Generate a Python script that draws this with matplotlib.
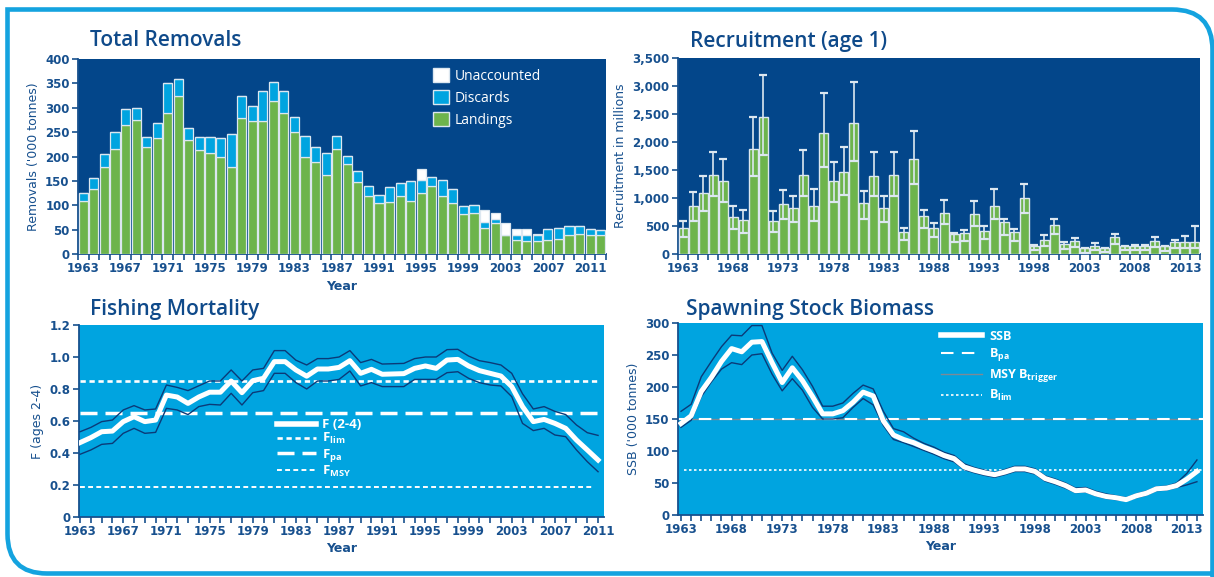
import numpy as np
import matplotlib.pyplot as plt
from matplotlib.lines import Line2D
from matplotlib.patches import Patch, PathPatch
from matplotlib.path import Path

# ---------------- data ----------------
rem_years = np.arange(1963, 2013)
landings = [109, 133, 178, 216, 264, 275, 220, 237, 289, 324,
            234, 213, 207, 200, 179, 280, 272, 272, 313, 289,
            250, 200, 189, 163, 216, 185, 147, 120, 104, 106,
            120, 108, 126, 140, 120, 104, 83, 84, 54, 63,
            38, 29, 27, 27, 29, 31, 38, 42, 40, 40]
discards = [17, 22, 27, 34, 34, 25, 19, 31, 62, 36,
            25, 28, 32, 37, 67, 45, 32, 62, 39, 45,
            32, 42, 31, 44, 26, 16, 24, 20, 18, 32,
            26, 41, 25, 17, 32, 29, 15, 16, 11, 9,
            0, 11, 11, 12, 22, 23, 19, 16, 11, 10]
unaccounted = [0] * 30 + [0, 0, 24, 0, 0, 0, 0, 0, 25, 13,
                          26, 11, 13, 3, 0, 0, 0, 0, 0, 0]

rec_years = np.arange(1963, 2015)
recruits = [464, 863, 1083, 1417, 1298, 661, 601, 1881, 2440, 583,
            887, 815, 1405, 857, 2155, 1298, 1464, 2333, 915, 1399,
            827, 1405, 387, 1696, 679, 464, 738, 357, 375, 714,
            405, 857, 571, 399, 1000, 137, 250, 518, 179, 226,
            101, 143, 101, 304, 137, 143, 143, 232, 137, 208,
            208, 208]
rec_low = [304, 595, 762, 1030, 929, 446, 381, 1387, 1762, 387,
           619, 571, 1030, 595, 1548, 923, 1048, 1655, 619, 1042,
           571, 1042, 244, 1256, 464, 304, 536, 208, 226, 506,
           268, 619, 345, 232, 726, 65, 143, 357, 89, 125,
           18, 71, 42, 179, 65, 71, 71, 131, 48, 113,
           113, 113]
rec_high = [583, 1113, 1387, 1827, 1702, 851, 780, 2446, 3190, 768,
            1149, 1030, 1857, 1155, 2875, 1643, 1917, 3065, 1125, 1821,
            1030, 1821, 464, 2190, 792, 554, 964, 375, 434, 952,
            494, 1155, 625, 452, 1256, 167, 333, 625, 214, 280,
            113, 196, 113, 357, 149, 161, 161, 298, 149, 250,
            327, 494]

f_years = np.arange(1963, 2012)
f_mean = [0.465, 0.496, 0.533, 0.537, 0.596, 0.627, 0.596, 0.606, 0.762, 0.75,
          0.71, 0.75, 0.78, 0.78, 0.85, 0.777, 0.852, 0.867, 0.971, 0.971,
          0.919, 0.88, 0.925, 0.925, 0.935, 0.977, 0.898, 0.923, 0.892, 0.894,
          0.896, 0.929, 0.944, 0.929, 0.981, 0.985, 0.944, 0.915, 0.898, 0.881,
          0.815, 0.69, 0.596, 0.61, 0.585, 0.554, 0.481, 0.419, 0.356]
f_high = [0.533, 0.56, 0.596, 0.606, 0.669, 0.696, 0.669, 0.675, 0.825, 0.81,
          0.79, 0.82, 0.85, 0.85, 0.919, 0.85, 0.919, 0.929, 1.04, 1.04,
          0.98, 0.95, 0.99, 0.99, 1.0, 1.04, 0.965, 0.985, 0.956, 0.958,
          0.96, 0.99, 1.0, 1.0, 1.046, 1.048, 1.006, 0.977, 0.965, 0.95,
          0.898, 0.77, 0.675, 0.69, 0.66, 0.64, 0.575, 0.527, 0.51]
f_low = [0.392, 0.419, 0.454, 0.46, 0.523, 0.554, 0.523, 0.529, 0.679, 0.669,
         0.64, 0.69, 0.704, 0.7, 0.773, 0.7, 0.777, 0.79, 0.898, 0.898,
         0.84, 0.8, 0.85, 0.85, 0.86, 0.9125, 0.819, 0.84, 0.815, 0.815,
         0.815, 0.86, 0.86, 0.86, 0.902, 0.908, 0.867, 0.84, 0.825, 0.819,
         0.752, 0.585, 0.54, 0.554, 0.5125, 0.502, 0.419, 0.346, 0.283]
F_LIM, F_PA, F_MSY = 0.85, 0.65, 0.19

ssb_years = np.arange(1963, 2015)
ssb = [143, 155, 193, 215, 240, 260, 255, 270, 271, 238,
       207, 230, 210, 185, 158, 158, 163, 176, 192, 186,
       147, 125, 118, 113, 106, 100, 93, 88, 75, 70,
       66, 63, 67, 72, 72, 68, 57, 52, 46, 38,
       39, 33, 29, 27, 24, 30, 34, 41, 42, 46,
       56, 68]
ssb_high = [162, 173, 216, 240, 263, 281, 280, 296, 296, 253,
            226, 248, 227, 201, 170, 170, 175, 190, 203, 197,
            162, 135, 130, 120, 112, 106, 98, 93, 80, 74,
            70, 66, 71, 76, 76, 72, 61, 56, 50, 42,
            43, 37, 33, 30, 27, 33, 37, 44, 45, 50,
            65, 86]
ssb_low = [137, 148, 185, 208, 228, 238, 235, 250, 252, 220,
           194, 213, 195, 168, 150, 150, 152, 168, 182, 172,
           140, 118, 113, 107, 101, 95, 88, 83, 71, 66,
           62, 59, 63, 68, 68, 64, 53, 48, 42, 35,
           36, 30, 26, 24, 22, 27, 31, 38, 39, 43,
           47, 52]
B_PA, B_TRIGGER, B_LIM = 150, 150, 70

# ---------------- style ----------------
NAVY_BG = '#03468a'
CYAN = '#00a4e0'
GREEN = '#6db44c'
TEXT = '#17508e'
DARK = '#0b3a78'
EDGE = '#dce7f0'
FRAME = '#14a3df'

plt.rcParams['font.family'] = ['DejaVu Sans']
plt.rcParams['mathtext.default'] = 'regular'

W, H = 1214, 577
fig = plt.figure(figsize=(W / 100, H / 100), dpi=100)
fig.patch.set_facecolor('white')

# outer frame
bg = fig.add_axes([0, 0, 1, 1], zorder=-5)
bg.set_xlim(0, W)
bg.set_ylim(H, 0)
bg.axis('off')
verts = [(1220, 573.5), (47, 573.5), (7.5, 573.5), (7.5, 534), (7.5, 9.5),
         (1172, 9.5), (1212.5, 9.5), (1212.5, 50), (1212.5, 590)]
codes = [Path.MOVETO, Path.LINETO, Path.CURVE3, Path.CURVE3, Path.LINETO,
         Path.LINETO, Path.CURVE3, Path.CURVE3, Path.LINETO]
bg.add_patch(PathPatch(Path(verts, codes), fill=False, edgecolor=FRAME,
                       lw=3.3, joinstyle='miter', clip_on=False))


def pix_axes(x0, y0, x1, y1):
    return fig.add_axes([x0 / W, 1 - y1 / H, (x1 - x0) / W, (y1 - y0) / H])


def style_axes(ax, face):
    ax.set_facecolor(face)
    for s in ['top', 'right']:
        ax.spines[s].set_visible(False)
    for s in ['left', 'bottom']:
        ax.spines[s].set_color(TEXT)
        ax.spines[s].set_linewidth(1.3)
    ax.tick_params(which='both', colors=TEXT, labelcolor=TEXT, length=4.5,
                   width=1.2, labelsize=8.5, pad=1.5)


def title(x, y, s):
    fig.text(x / W, 1 - y / H, s, fontsize=15, color='#0f4a8a',
             family=['Open Sans', 'DejaVu Sans'], fontweight='semibold',
             va='center', ha='left')


# ---------------- Total removals ----------------
ax1 = pix_axes(78, 59, 606, 254)
style_axes(ax1, NAVY_BG)
land = np.array(landings)
disc = np.array(discards)
unac = np.array(unaccounted)
ax1.bar(rem_years, land, width=0.86, color=GREEN, edgecolor=EDGE, lw=0.9, zorder=3)
ax1.bar(rem_years, disc, bottom=land, width=0.86, color=CYAN, edgecolor=EDGE,
        lw=0.9, zorder=3)
ax1.bar(rem_years, unac, bottom=land + disc, width=0.86, color='white',
        edgecolor=EDGE, lw=0.9, zorder=3)
ax1.set_xlim(1962.5, 2012.5)
ax1.set_ylim(0, 400)
yt = np.arange(0, 401, 50)
ax1.set_yticks(yt, [str(v) for v in yt], fontweight='bold')
lab = np.arange(1963, 2012, 4)
ax1.set_xticks(lab, [str(v) for v in lab], fontweight='bold')
ax1.set_xticks(np.arange(1962.5, 2013), minor=True)
ax1.tick_params(axis='x', which='major', length=0, pad=6)
ax1.set_ylabel("Removals ('000 tonnes)", color=TEXT, fontsize=9, labelpad=4)
ax1.set_xlabel('Year', color=TEXT, fontsize=9, fontweight='bold', labelpad=3)
h1 = [Patch(facecolor='white', edgecolor=EDGE, lw=1),
      Patch(facecolor=CYAN, edgecolor=EDGE, lw=1),
      Patch(facecolor=GREEN, edgecolor=EDGE, lw=1)]
leg = ax1.legend(h1, ['Unaccounted', 'Discards', 'Landings'], loc='upper left',
                 bbox_to_anchor=(0.672, 0.955), frameon=False, handlelength=1.2,
                 handleheight=1.2, handletextpad=0.4, labelspacing=0.45,
                 borderpad=0, borderaxespad=0,
                 prop={'family': ['Open Sans', 'DejaVu Sans'], 'size': 10})
for t in leg.get_texts():
    t.set_color('white')
title(90, 41, 'Total Removals')

# ---------------- Recruitment ----------------
ax2 = pix_axes(678, 58, 1200, 254)
style_axes(ax2, NAVY_BG)
rec = np.array(recruits)
lo = np.array(rec_low)
hi = np.array(rec_high)
ax2.bar(rec_years, rec, width=0.9, color=GREEN, edgecolor=EDGE, lw=1, zorder=3)
ax2.hlines(lo, rec_years - 0.45, rec_years + 0.45, color=EDGE, lw=1.2, zorder=4)
ax2.errorbar(rec_years, rec, yerr=[rec - lo, hi - rec], fmt='none', ecolor=EDGE,
             elinewidth=1.2, capsize=3.2, capthick=1.6, zorder=4)
ax2.set_xlim(1962.5, 2014.5)
ax2.set_ylim(0, 3500)
yt = np.arange(0, 3501, 500)
ax2.set_yticks(yt, [f'{v:,}' for v in yt], fontweight='bold')
lab = np.arange(1963, 2015, 5)
ax2.set_xticks(lab, [str(v) for v in lab], fontweight='bold')
ax2.set_xticks(np.arange(1962.5, 2015), minor=True)
ax2.tick_params(axis='x', which='major', length=0, pad=6)
ax2.set_ylabel('Recruitment in millions', color=TEXT, fontsize=9, labelpad=4)
title(690, 41, 'Recruitment (age 1)')

# ---------------- Fishing mortality ----------------
ax3 = pix_axes(79, 325, 604, 517)
style_axes(ax3, CYAN)
ax3.plot(f_years, f_high, color=DARK, lw=1, zorder=3)
ax3.plot(f_years, f_low, color=DARK, lw=1, zorder=3)
ax3.plot(f_years, f_mean, color='white', lw=3.6, zorder=4)
ax3.plot([1963, 2011], [F_LIM] * 2, color='white', lw=1.9, dashes=(2, 1.4))
ax3.plot([1963, 2011], [F_PA] * 2, color='white', lw=2.5, dashes=(4.9, 2.3))
ax3.plot([1963, 2010.6], [F_MSY] * 2, color='white', lw=1.4, dashes=(2.5, 1.7))
ax3.set_xlim(1962.9, 2011.55)
ax3.set_ylim(0, 1.2)
yt = np.round(np.arange(0, 1.21, 0.2), 1)
ax3.set_yticks(yt, ['0' if v == 0 else f'{v:.1f}' for v in yt], fontweight='bold')
lab = np.arange(1963, 2012, 4)
ax3.set_xticks(lab, [str(v) for v in lab], fontweight='bold')
ax3.set_xticks(f_years, minor=True)
ax3.set_ylabel('F (ages 2-4)', color=TEXT, fontsize=9, labelpad=4)
ax3.set_xlabel('Year', color=TEXT, fontsize=9, fontweight='bold', labelpad=3)
h3 = [Line2D([], [], color='white', lw=4),
      Line2D([], [], color='white', lw=1.9, dashes=(2, 1.4)),
      Line2D([], [], color='white', lw=2.5, dashes=(4.9, 2.3)),
      Line2D([], [], color='white', lw=1.4, dashes=(2.5, 1.7))]
leg = ax3.legend(h3, ['F (2-4)', 'F$_{lim}$', 'F$_{pa}$', 'F$_{MSY}$'],
                 loc='upper left', bbox_to_anchor=(0.378, 0.515), frameon=False,
                 handlelength=2.9, handletextpad=0.5, labelspacing=0.02,
                 borderpad=0, borderaxespad=0,
                 prop={'family': ['Open Sans', 'DejaVu Sans'], 'size': 9.5,
                       'weight': 'bold'})
for t in leg.get_texts():
    t.set_color('white')
title(90, 309, 'Fishing Mortality')

# ---------------- SSB ----------------
ax4 = pix_axes(678, 323, 1203, 515)
style_axes(ax4, CYAN)
ax4.axhline(B_TRIGGER, color='#7d8a96', lw=1, zorder=2)
ax4.axhline(B_PA, color='white', lw=1.5, dashes=(6, 4), zorder=2)
ax4.plot([1963.3, 2014.6], [B_LIM] * 2, color='white', lw=1.2, dashes=(1.5, 1.5),
         zorder=2)
ax4.plot(ssb_years, ssb_high, color=DARK, lw=1, zorder=3)
ax4.plot(ssb_years, ssb_low, color=DARK, lw=1, zorder=3)
ax4.plot(ssb_years, ssb, color='white', lw=3.6, zorder=4)
ax4.set_xlim(1962.7, 2014.6)
ax4.set_ylim(0, 300)
yt = np.arange(0, 301, 50)
ax4.set_yticks(yt, [str(v) for v in yt], fontweight='bold')
lab = np.arange(1963, 2015, 5)
ax4.set_xticks(lab, [str(v) for v in lab], fontweight='bold')
ax4.set_xticks(ssb_years, minor=True)
ax4.set_ylabel("SSB ('000 tonnes)", color=TEXT, fontsize=9, labelpad=4)
ax4.set_xlabel('Year', color=TEXT, fontsize=9, fontweight='bold', labelpad=3)
h4 = [Line2D([], [], color='white', lw=4),
      Line2D([], [], color='white', lw=1.5, dashes=(6, 4)),
      Line2D([], [], color='#7d8a96', lw=1),
      Line2D([], [], color='white', lw=1.2, dashes=(1.5, 1.5))]
leg = ax4.legend(h4, ['SSB', 'B$_{pa}$', 'MSY B$_{trigger}$', 'B$_{lim}$'],
                 loc='upper left', bbox_to_anchor=(0.5, 0.965), frameon=False,
                 handlelength=3.3, handletextpad=0.6, labelspacing=0.3,
                 borderpad=0, borderaxespad=0,
                 prop={'family': ['Open Sans', 'DejaVu Sans'], 'size': 9,
                       'weight': 'bold'})
for t in leg.get_texts():
    t.set_color('white')
title(686, 309, 'Spawning Stock Biomass')

fig.savefig('out.png', dpi=100)
